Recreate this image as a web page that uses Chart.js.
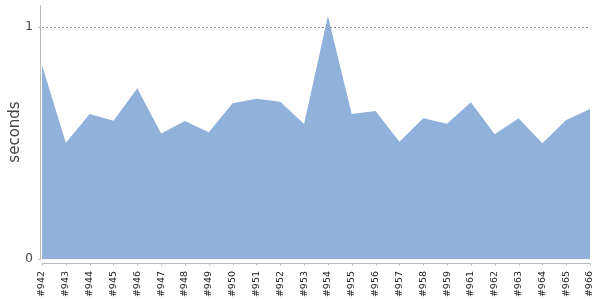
<!DOCTYPE html>
<html><head><meta charset="utf-8">
<script src="https://cdn.jsdelivr.net/npm/chart.js@4/dist/chart.umd.min.js"></script>
<style>html,body{margin:0;padding:0;background:#fff}#wrap{width:600px;height:300px}</style>
</head><body><div id="wrap"><canvas id="c"></canvas></div>
<script>
const builds = ["#942","#943","#944","#945","#946","#947","#948","#949","#950","#951","#952","#953","#954","#955","#956","#957","#958","#959","#961","#962","#963","#964","#965","#966"];
const durations = [0.837,0.502,0.626,0.597,0.737,0.542,0.596,0.547,0.672,0.691,0.678,0.583,1.049,0.626,0.639,0.506,0.607,0.584,0.676,0.538,0.607,0.499,0.600,0.647];
const yTicks = [0, 1];
const yTitle = "seconds";

const axesPlugin = {
  id: 'axesLines',
  afterDraw(chart) {
    const ctx = chart.ctx, a = chart.chartArea, x = chart.scales.x, y = chart.scales.y;
    ctx.save();
    ctx.strokeStyle = '#b8b8b8';
    ctx.lineWidth = 1;
    ctx.beginPath();
    ctx.moveTo(a.left - 1.5, a.top);
    ctx.lineTo(a.left - 1.5, a.bottom);
    yTicks.forEach(v => {
      const py = Math.round(y.getPixelForValue(v)) + 0.5;
      ctx.moveTo(a.left - 4, py);
      ctx.lineTo(a.left - 1.5, py);
    });
    const ay = a.bottom + 4.5;
    ctx.moveTo(a.left, ay);
    ctx.lineTo(a.right, ay);
    builds.forEach((b, i) => {
      const px = Math.round(x.getPixelForValue(i)) + 0.5;
      ctx.moveTo(px, ay);
      ctx.lineTo(px, ay + 2);
    });
    ctx.stroke();
    ctx.restore();
  }
};

new Chart(document.getElementById('c'), {
  type: 'line',
  data: {
    labels: builds,
    datasets: [{
      data: durations,
      fill: 'origin',
      backgroundColor: '#90b1da',
      borderColor: '#90b1da',
      borderWidth: 0,
      pointRadius: 0,
      tension: 0
    }]
  },
  options: {
    responsive: true,
    maintainAspectRatio: false,
    animation: false,
    layout: { padding: { top: 5, right: 10, left: 0, bottom: 0 } },
    plugins: { legend: { display: false }, tooltip: { enabled: false } },
    scales: {
      x: {
        offset: false,
        grid: { display: false, drawTicks: false },
        border: { display: false },
        ticks: {
          autoSkip: false, minRotation: 90, maxRotation: 90, padding: 12,
          color: '#222', font: { family: 'DejaVu Sans', size: 9.5 }
        },
        afterFit(s) { s.height = 41; s.paddingLeft = 0; s.paddingRight = 0; }
      },
      y: {
        min: 0, max: 1.096,
        afterBuildTicks(s) { s.ticks = yTicks.map(v => ({ value: v })); },
        grid: {
          drawTicks: false,
          color: c => (c.tick && c.tick.value === 1) ? '#8a8a8a' : 'rgba(0,0,0,0)',
          lineWidth: 1
        },
        border: { display: false, dash: [2, 2] },
        ticks: { padding: 9, color: '#444', font: { family: 'DejaVu Sans', size: 12 } },
        title: {
          display: true, text: yTitle, color: '#444',
          font: { family: 'DejaVu Sans', size: 15 }, padding: { top: 6, bottom: 0 }
        },
        afterFit(s) { s.width = 42; s.paddingTop = 0; s.paddingBottom = 0; }
      }
    }
  },
  plugins: [axesPlugin]
});
</script>
</body></html>
